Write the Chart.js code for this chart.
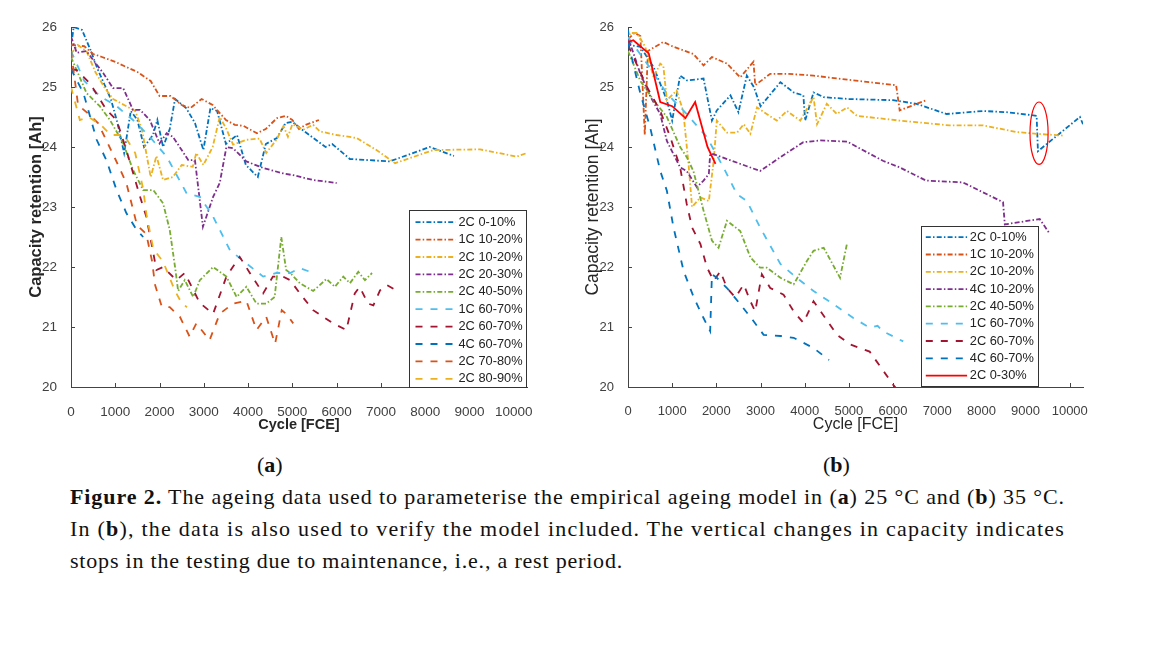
<!DOCTYPE html>
<html>
<head>
<meta charset="utf-8">
<style>
    body {
        margin: 0;
        background: #fff;
        width: 1152px;
        height: 648px;
        overflow: hidden;
        position: relative;
    }
    canvas {
        position: absolute;
        top: 0;
    }
    #chartA { left: 0; }
    #chartB { left: 560px; }
    .cap {
        position: absolute;
        font-family: "Liberation Serif", "Times New Roman", serif;
        font-size: 22px;
        line-height: 1;
        color: #111;
        white-space: nowrap;
    }
</style>
</head>
<body>
<canvas id="chartA" width="545" height="445"></canvas>
<canvas id="chartB" width="545" height="445"></canvas>

<div class="cap" style="left:257px; top:454px;">(<b>a</b>)</div>
<div class="cap" style="left:823px; top:454px;">(<b>b</b>)</div>
<div class="cap fit" data-w="995" style="left:70px; top:486px;"><b>Figure 2.</b> The ageing data used to parameterise the empirical ageing model in (<b>a</b>) 25 °C and (<b>b</b>) 35 °C.</div>
<div class="cap fit" data-w="995" style="left:70px; top:518px;">In (<b>b</b>), the data is also used to verify the model included. The vertical changes in capacity indicates</div>
<div class="cap fit" data-w="553" style="left:70px; top:550px;">stops in the testing due to maintenance, i.e., a rest period.</div>

<script src="https://cdn.jsdelivr.net/npm/chart.js@4.4.1/dist/chart.umd.min.js"></script>
<script>
    // ---- data: [cycle FCE, capacity Ah] ----
    // (a) 25 °C
    const a_2C_0_10 = [[0,25.65],[60,26.0],[250,25.95],[450,25.6],[600,25.3],[750,25.05],[900,24.8],[1050,24.4],[1200,23.9],[1350,24.6],[1500,24.45],[1650,24.0],[1850,24.2],[1950,24.45],[2080,24.0],[2230,24.3],[2350,24.8],[2600,24.65],[2800,24.4],[2990,23.95],[3150,24.65],[3300,24.6],[3500,24.05],[3750,24.2],[3950,23.7],[4220,23.5],[4400,24.05],[4650,24.15],[4850,24.4],[5000,24.42],[5200,24.3],[5750,24.0],[5900,24.05],[6300,23.8],[7200,23.76],[7350,23.8],[8100,24.0],[8650,23.85]];
    const a_1C_10_20 = [[0,25.7],[300,25.68],[500,25.55],[700,25.5],[1000,25.42],[1200,25.35],[1500,25.25],[1800,25.1],[2000,24.85],[2250,24.85],[2500,24.7],[2700,24.65],[2950,24.8],[3200,24.7],[3500,24.45],[3700,24.37],[3900,24.35],[4200,24.23],[4400,24.3],[4650,24.48],[4850,24.52],[5000,24.45],[5150,24.3],[5300,24.37],[5600,24.45]];
    const a_2C_10_20 = [[0,25.55],[150,25.7],[350,25.6],[550,25.25],[750,25.0],[950,24.8],[1200,24.7],[1450,24.6],[1600,24.3],[1700,23.9],[1800,23.5],[1930,23.85],[2080,23.45],[2300,23.5],[2500,23.7],[2750,23.67],[2830,23.9],[2990,23.7],[3200,24.0],[3360,24.5],[3510,24.3],[3660,24.04],[3960,24.12],[4260,24.14],[4410,23.9],[4640,24.12],[4800,24.35],[4900,24.17],[5000,24.38],[5250,24.29],[5470,24.37],[5620,24.26],[6000,24.2],[6450,24.15],[6900,23.95],[7320,23.73],[8190,23.95],[9240,23.96],[10070,23.84],[10300,23.9]];
    const a_2C_20_30 = [[0,25.84],[130,25.57],[350,25.6],[500,25.45],[730,25.23],[950,24.98],[1180,24.98],[1400,24.62],[1560,24.62],[1780,24.45],[2000,24.06],[2160,24.23],[2300,24.17],[2500,23.95],[2650,23.78],[2800,23.78],[2980,22.67],[3210,23.17],[3360,23.4],[3510,24.0],[3660,23.98],[3960,23.76],[4340,23.65],[4790,23.56],[5020,23.53],[5470,23.45],[6000,23.4]];
    const a_2C_40_50 = [[0,25.5],[350,24.9],[650,24.68],[880,24.45],[1180,24.06],[1400,23.62],[1630,23.28],[1860,23.28],[2080,23.06],[2230,22.62],[2350,22.0],[2420,21.6],[2570,21.78],[2760,21.5],[2910,21.78],[3210,22.0],[3510,21.84],[3740,21.5],[3960,21.67],[4190,21.39],[4410,21.39],[4600,21.5],[4750,22.5],[4860,21.95],[4950,21.9],[5170,21.73],[5470,21.6],[5770,21.8],[5960,21.67],[6150,21.84],[6300,21.73],[6490,21.92],[6640,21.78],[6800,21.9]];
    const a_1C_60_70 = [[0,25.6],[300,25.1],[650,24.85],[1030,24.68],[1400,24.45],[1780,24.17],[2160,23.84],[2610,23.23],[2910,23.17],[3210,22.84],[3590,22.28],[3960,22.06],[4340,21.84],[4640,21.9],[4950,21.9],[5170,21.98],[5400,21.92]];
    const a_2C_60_70 = [[0,25.3],[130,25.28],[430,25.06],[800,24.62],[1030,24.45],[1250,23.95],[1560,23.17],[1700,22.84],[1860,22.23],[1930,21.95],[2080,22.0],[2380,21.78],[2570,21.9],[2910,21.4],[3210,21.22],[3510,21.84],[3810,22.17],[4040,21.9],[4340,21.56],[4560,21.84],[4790,21.84],[4950,21.78],[5170,21.56],[5470,21.28],[5920,21.06],[6220,20.95],[6410,21.56],[6520,21.67],[6710,21.39],[6830,21.36],[6980,21.61],[7130,21.7],[7350,21.61]];
    const a_4C_60_70 = [[0,25.3],[280,24.9],[580,24.12],[800,23.78],[1030,23.28],[1250,22.9],[1480,22.62],[1630,22.5]];
    const a_2C_70_80 = [[0,25.6],[160,24.7],[400,24.55],[610,24.4],[1000,23.8],[1250,23.4],[1490,22.7],[1700,22.55],[1830,22.1],[1900,21.7],[2050,21.34],[2230,21.33],[2460,21.17],[2680,20.84],[2830,21.06],[3130,20.78],[3360,21.22],[3660,21.39],[3960,21.44],[4190,20.95],[4410,21.17],[4610,20.72],[4760,21.28],[4860,21.22],[5020,21.06]];
    const a_2C_80_90 = [[0,25.0],[200,24.45],[400,24.5],[700,24.35],[900,24.2],[1200,24.2],[1450,23.9],[1630,23.3],[1710,22.85],[1860,22.3],[2080,22.09],[2350,21.6],[2500,21.4],[2620,21.33]];
    const labelsA = ['2C 0-10%', '1C 10-20%', '2C 10-20%', '2C 20-30%', '2C 40-50%', '1C 60-70%', '2C 60-70%', '4C 60-70%', '2C 70-80%', '2C 80-90%'];

    // (b) 35 °C
    const b_2C_0_10 = [[0,25.95],[50,25.7],[280,25.67],[580,25.33],[880,24.78],[1000,24.44],[1180,25.19],[1330,25.11],[1710,25.14],[1900,24.44],[2010,24.61],[2320,24.86],[2500,24.58],[2690,25.19],[2850,25.0],[3000,24.68],[3450,25.08],[3750,24.91],[3970,24.86],[4010,24.44],[4200,24.91],[4430,24.83],[5000,24.8],[6000,24.78],[6530,24.72],[7210,24.55],[8040,24.6],[8570,24.58],[9250,24.52],[9280,23.93],[10230,24.5],[10300,24.38]];
    const b_1C_10_20 = [[0,25.8],[150,25.9],[280,25.85],[380,24.2],[450,25.6],[800,25.75],[1030,25.67],[1480,25.55],[1710,25.36],[1900,25.5],[2240,25.39],[2540,25.16],[2770,25.36],[2840,25.42],[2880,25.03],[3220,25.22],[3600,25.22],[4200,25.19],[5100,25.11],[6070,25.03],[6150,24.61],[6750,24.78]];
    const b_2C_10_20 = [[0,25.75],[50,25.9],[200,25.9],[390,25.67],[580,25.16],[730,25.39],[800,25.35],[880,24.78],[1100,24.94],[1250,24.6],[1370,23.72],[1450,23.0],[1640,23.16],[1830,23.1],[1940,23.77],[2010,24.44],[2240,24.24],[2470,24.24],[2620,24.38],[2770,24.22],[2920,24.66],[3140,24.55],[3370,24.44],[3600,24.6],[3900,24.44],[4200,24.83],[4280,24.38],[4500,24.72],[4730,24.55],[4960,24.66],[5180,24.52],[6150,24.44],[7280,24.36],[8040,24.36],[8790,24.25],[9250,24.22],[9850,24.19]];
    const b_4C_10_20 = [[0,25.83],[280,25.22],[500,24.85],[730,24.55],[880,24.1],[1180,23.66],[1330,23.6],[1560,23.33],[1710,23.44],[1830,23.55],[1860,23.88],[1940,23.88],[2990,23.6],[3450,23.83],[3970,24.08],[4350,24.11],[4960,24.09],[5770,23.77],[6150,23.66],[6750,23.44],[7580,23.41],[8490,23.08],[8530,22.71],[9320,22.8],[9550,22.55]];
    const b_2C_40_50 = [[0,25.6],[280,25.1],[580,24.78],[880,24.5],[1180,24.0],[1330,23.83],[1480,23.6],[1710,22.94],[1900,22.44],[2050,22.32],[2240,22.77],[2540,22.6],[2770,22.16],[2990,21.99],[3140,21.99],[3450,21.82],[3750,21.71],[4050,22.1],[4200,22.27],[4430,22.32],[4800,21.82],[4960,22.4]];
    const b_1C_60_70 = [[0,25.83],[430,25.39],[880,24.89],[1330,24.55],[1790,24.16],[2160,23.66],[2470,23.21],[2690,23.1],[2990,22.66],[3450,22.05],[3820,21.82],[4200,21.6],[4650,21.38],[5100,21.15],[5470,20.99],[5650,21.02],[5770,20.93],[6230,20.76]];
    const b_2C_60_70 = [[0,25.7],[430,25.0],[730,24.6],[960,24.16],[1180,23.66],[1330,23.05],[1450,22.66],[1640,22.38],[1790,21.99],[1940,21.77],[2090,21.93],[2240,21.65],[2430,21.49],[2620,21.71],[2770,21.43],[2880,21.26],[3030,21.88],[3220,21.65],[3520,21.54],[3750,21.26],[3970,21.07],[4200,21.43],[4730,20.87],[5030,20.71],[5470,20.59],[6000,20.04],[6100,19.95]];
    const b_4C_60_70 = [[0,25.75],[280,24.89],[500,24.33],[730,23.6],[880,23.27],[1030,22.66],[1260,21.93],[1490,21.49],[1710,21.15],[1860,20.93],[1900,21.88],[2010,21.82],[2240,21.65],[2540,21.38],[2840,21.1],[3070,20.87],[3450,20.85],[3750,20.82],[4200,20.65],[4550,20.45]];
    const b_2C_0_30 = [[0,25.75],[120,25.78],[470,25.56],[730,24.75],[1000,24.68],[1300,24.48],[1520,24.75],[1800,24.0],[1980,23.72]];
    const labelsB = ['2C 0-10%', '1C 10-20%', '2C 10-20%', '4C 10-20%', '2C 40-50%', '1C 60-70%', '2C 60-70%', '4C 60-70%', '2C 0-30%'];

    const xRange = [0, 10300];
    const xTickValues = [0, 1000, 2000, 3000, 4000, 5000, 6000, 7000, 8000, 9000, 10000];
    const yRange = [20, 26];
    const yTickValues = [20, 21, 22, 23, 24, 25, 26];
    // red ellipse round the rest-period drop in (b): centre x, centre y, half-width, half-height
    const restMark = [9305, 24.23, 205, 0.52];

    // ---- styles ----
    const BLUE = '#0072BD', ORANGE = '#D95319', YELLOW = '#EDB120', PURPLE = '#7E2F8E',
          GREEN = '#77AC30', CYAN = '#4DBEEE', DARKRED = '#A2142F', RED = '#FF0000';
    const DASHDOT = [5, 2.2, 1.5, 2.2];
    const DASHED = [7, 8];
    const AXIS = '#444';
    const SANS = '"Liberation Sans", Arial, Helvetica, sans-serif';

    const inTicks = {
        id: 'inTicks',
        afterDraw(chart) {
            const {ctx, chartArea: a, scales: {x, y}} = chart;
            ctx.save();
            ctx.strokeStyle = AXIS;
            ctx.lineWidth = 1;
            ctx.beginPath();
            x.ticks.forEach(t => {
                const px = Math.round(x.getPixelForValue(t.value)) + 0.5;
                ctx.moveTo(px, a.bottom);
                ctx.lineTo(px, a.bottom - 4);
            });
            y.ticks.forEach(t => {
                const py = Math.round(y.getPixelForValue(t.value)) + 0.5;
                ctx.moveTo(a.left, py);
                ctx.lineTo(a.left + 4, py);
            });
            ctx.stroke();
            ctx.restore();
        }
    };

    const boxLegend = {
        id: 'boxLegend',
        afterDraw(chart, args, o) {
            const {ctx, chartArea: a} = chart;
            const x0 = Math.round(a.right - o.offRight - o.w) + 0.5;
            const y0 = Math.round(a.bottom - o.offBottom - o.h) + 0.5;
            ctx.save();
            ctx.fillStyle = '#fff';
            ctx.fillRect(x0, y0, o.w, o.h);
            ctx.strokeStyle = '#333';
            ctx.lineWidth = 1;
            ctx.strokeRect(x0, y0, o.w, o.h);
            ctx.font = '12.8px ' + SANS;
            ctx.textBaseline = 'middle';
            chart.data.datasets.forEach((ds, i) => {
                const cy = y0 + o.first + i * o.row;
                ctx.setLineDash(ds.borderDash || []);
                ctx.strokeStyle = ds.borderColor;
                ctx.lineWidth = ds.borderWidth;
                ctx.beginPath();
                ctx.moveTo(x0 + o.l1, cy);
                ctx.lineTo(x0 + o.l2, cy);
                ctx.stroke();
                ctx.setLineDash([]);
                ctx.fillStyle = '#222';
                ctx.fillText(ds.label, x0 + o.tx, cy);
            });
            ctx.restore();
        }
    };

    const ellipseMark = {
        id: 'ellipseMark',
        afterDatasetsDraw(chart, args, o) {
            if (!o.mark) return;
            const {ctx, scales: {x, y}} = chart;
            const [cx, cy, rx, ry] = o.mark;
            const px = x.getPixelForValue(cx), py = y.getPixelForValue(cy);
            ctx.save();
            ctx.strokeStyle = RED;
            ctx.lineWidth = 1.2;
            ctx.beginPath();
            ctx.ellipse(px, py, x.getPixelForValue(cx + rx) - px, y.getPixelForValue(cy - ry) - py, 0, 0, Math.PI * 2);
            ctx.stroke();
            ctx.restore();
        }
    };

    const makeDataset = (label, data, color, dash, i) => ({
        label: label,
        data: data,
        borderColor: color,
        borderDash: dash,
        borderWidth: 1.8,
        pointRadius: 0,
        tension: 0,
        fill: false,
        order: -i
    });

    const makeChart = (id, datasets, p) => {
        const tickFont = {family: SANS, size: p.tickSize};
        const weight = p.bold ? 'bold' : 'normal';
        return new Chart(document.getElementById(id), {
            type: 'line',
            data: {datasets: datasets},
            options: {
                responsive: false,
                animation: false,
                devicePixelRatio: 1,
                layout: {padding: {left: 0, top: 27, right: p.padRight, bottom: 8}},
                scales: {
                    x: {
                        type: 'linear',
                        min: xRange[0],
                        max: xRange[1],
                        afterBuildTicks: s => { s.ticks = xTickValues.map(v => ({value: v})); },
                        ticks: {maxRotation: 0, autoSkip: false, padding: 9, font: tickFont, color: '#404040',
                                callback: v => String(v)},
                        grid: {display: false},
                        border: {display: true, color: AXIS, width: 1},
                        title: {display: true, text: 'Cycle [FCE]', color: '#262626',
                                font: {family: SANS, size: p.xTitleSize, weight: weight},
                                padding: {top: 0, bottom: 3}},
                        afterFit: s => { s.height = 50; }
                    },
                    y: {
                        min: yRange[0],
                        max: yRange[1],
                        afterBuildTicks: s => { s.ticks = yTickValues.map(v => ({value: v})); },
                        ticks: {padding: 6, font: tickFont, color: '#404040', callback: v => String(v)},
                        grid: {display: false},
                        border: {display: true, color: AXIS, width: 1},
                        title: {display: true, text: 'Capacity retention [Ah]', color: '#262626',
                                font: {family: SANS, size: p.yTitleSize, weight: weight},
                                padding: {top: p.titlePad, bottom: 0}},
                        afterFit: s => { s.width = p.yWidth; }
                    }
                },
                plugins: {
                    legend: {display: false},
                    tooltip: {enabled: false},
                    boxLegend: p.legend,
                    ellipseMark: {mark: p.mark}
                }
            },
            plugins: [inTicks, ellipseMark, boxLegend]
        });
    };

    const seriesA = [a_2C_0_10, a_1C_10_20, a_2C_10_20, a_2C_20_30, a_2C_40_50, a_1C_60_70, a_2C_60_70, a_4C_60_70, a_2C_70_80, a_2C_80_90];
    const colorsA = [BLUE, ORANGE, YELLOW, PURPLE, GREEN, CYAN, DARKRED, BLUE, ORANGE, YELLOW];
    const dashA = [DASHDOT, DASHDOT, DASHDOT, DASHDOT, DASHDOT, DASHED, DASHED, DASHED, DASHED, DASHED];

    const seriesB = [b_2C_0_10, b_1C_10_20, b_2C_10_20, b_4C_10_20, b_2C_40_50, b_1C_60_70, b_2C_60_70, b_4C_60_70, b_2C_0_30];
    const colorsB = [BLUE, ORANGE, YELLOW, PURPLE, GREEN, CYAN, DARKRED, BLUE, RED];
    const dashB = [DASHDOT, DASHDOT, DASHDOT, DASHDOT, DASHDOT, DASHED, DASHED, DASHED, []];

    makeChart('chartA', labelsA.map((l, i) => makeDataset(l, seriesA[i], colorsA[i], dashA[i], i)), {
        bold: true, padRight: 18, yWidth: 71, titlePad: 27, tickSize: 13.5, xTitleSize: 14.5, yTitleSize: 16.5,
        legend: {w: 117, h: 177, offRight: 1, offBottom: 0, first: 11.7, row: 17.4, l1: 6, l2: 46, tx: 49},
        mark: null
    });

    makeChart('chartB', labelsB.map((l, i) => makeDataset(l, seriesB[i], colorsB[i], dashB[i], i)), {
        bold: false, padRight: 22, yWidth: 68, titlePad: 23, tickSize: 13, xTitleSize: 16, yTitleSize: 17.5,
        legend: {w: 117, h: 160, offRight: 44.7, offBottom: 1, first: 10.7, row: 17.3, l1: 4.3, l2: 45.6, tx: 48.3},
        mark: restMark
    });

    // stretch each caption line to the width it has in the figure
    document.querySelectorAll('.fit').forEach(el => {
        const target = parseFloat(el.dataset.w);
        const natural = el.getBoundingClientRect().width;
        const n = el.textContent.length;
        el.style.letterSpacing = ((target - natural) / n) + 'px';
    });
</script>
</body>
</html>
